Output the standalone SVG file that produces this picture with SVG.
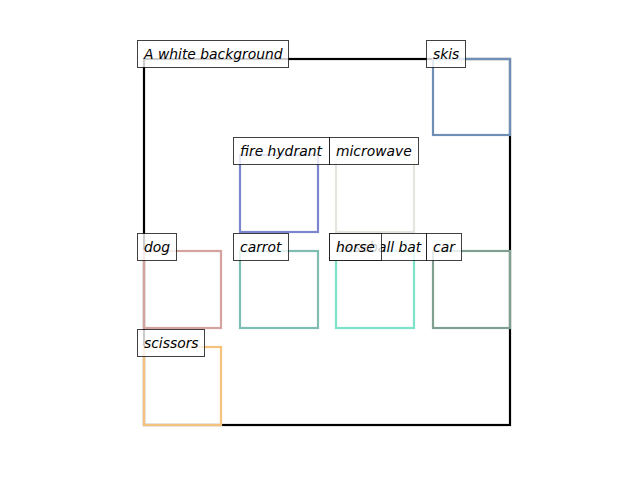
<svg xmlns="http://www.w3.org/2000/svg" width="640" height="480" viewBox="0 0 640 480">
<style>
.bb{fill:none;stroke-width:2.2}
.lb rect{fill:#fff;fill-opacity:0.8;stroke:#000;stroke-opacity:0.75;stroke-width:1}
.lb text{font-family:"DejaVu Sans",sans-serif;font-style:italic;font-size:13.89px;fill:#000}
</style>
<rect width="640" height="480" fill="#fff"/>
<g id="background">
<rect x="144" y="59" width="366" height="366" fill="none" stroke="#000" stroke-width="2.2"/>
</g>
<g id="boxes">
<rect id="box-skis" class="bb" x="433" y="59" width="77" height="76" stroke="#6f8fb6"/>
<rect id="box-fire-hydrant" class="bb" x="240" y="155" width="78" height="77" stroke="#7c86cf"/>
<rect id="box-microwave" class="bb" x="336" y="155" width="78" height="77" stroke="#e6e4de"/>
<rect id="box-dog" class="bb" x="144" y="251" width="77" height="77" stroke="#d6a2a0"/>
<rect id="box-carrot" class="bb" x="240" y="251" width="78" height="77" stroke="#7fbdb3"/>
<rect id="box-horse" class="bb" x="336" y="251" width="78" height="77" stroke="#7de2c7"/>
<rect id="box-car" class="bb" x="433" y="251" width="77" height="77" stroke="#7f9f91"/>
<rect id="box-scissors" class="bb" x="144" y="347" width="77" height="78" stroke="#f5c27c"/>
</g>
<g id="labels">
<g id="label-bg" class="lb"><rect x="137.5" y="40.5" width="151" height="27"/><text x="144" y="59">A white background</text></g>
<g id="label-skis" class="lb"><rect x="426.5" y="40.5" width="39" height="27"/><text x="433" y="59">skis</text></g>
<g id="label-fire-hydrant" class="lb"><rect x="233.5" y="137.5" width="96" height="27"/><text x="240" y="156">fire hydrant</text></g>
<g id="label-microwave" class="lb"><rect x="329.5" y="137.5" width="89" height="27"/><text x="336" y="156">microwave</text></g>
<g id="label-dog" class="lb"><rect x="137.5" y="233.5" width="39" height="27"/><text x="144" y="252">dog</text></g>
<g id="label-carrot" class="lb"><rect x="233.5" y="233.5" width="55" height="27"/><text x="240" y="252">carrot</text></g>
<g id="label-baseball-bat" class="lb"><rect x="329.5" y="233.5" width="97" height="27"/><text x="336" y="252">baseball bat</text></g>
<g id="label-horse" class="lb"><rect x="329.5" y="233.5" width="52" height="27"/><text x="336" y="252">horse</text></g>
<g id="label-car" class="lb"><rect x="426.5" y="233.5" width="35" height="27"/><text x="433" y="252">car</text></g>
<g id="label-scissors" class="lb"><rect x="137.5" y="329.5" width="67" height="27"/><text x="144" y="348">scissors</text></g>
</g>
</svg>
